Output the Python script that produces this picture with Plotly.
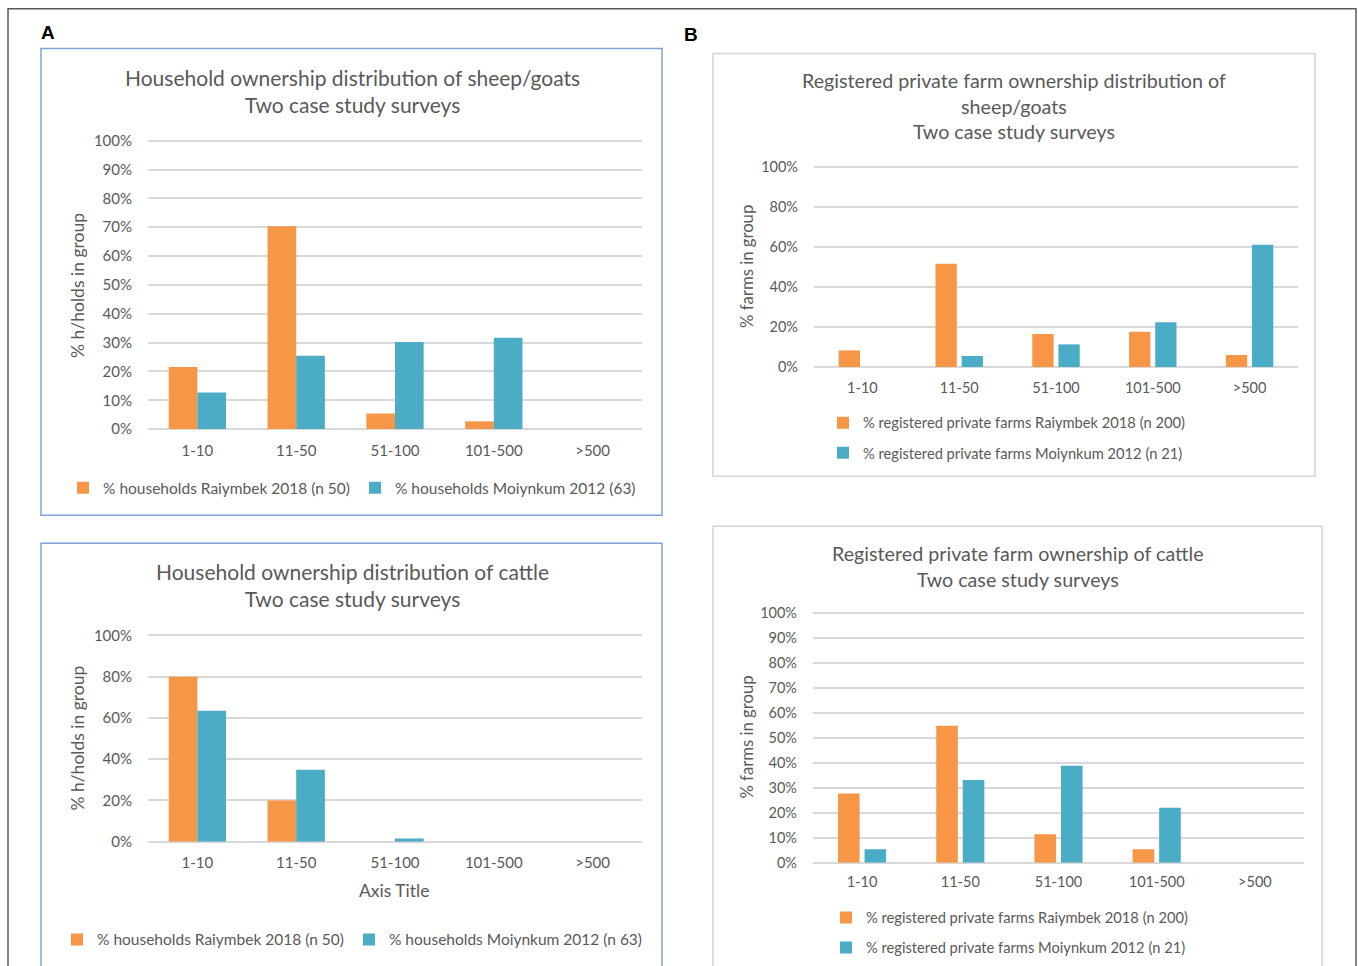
import plotly.graph_objects as go

W, H = 1358, 966

# Herd-size classes shared by all four panels
categories = ["1-10", "11-50", "51-100", "101-500", ">500"]

# A (top): households owning sheep/goats, % in each size class
sheep_hh_raiymbek = [21.5, 70.3, 5.4, 2.7, 0]
sheep_hh_moiynkum = [12.7, 25.4, 30.2, 31.7, 0]

# A (bottom): households owning cattle
cattle_hh_raiymbek = [80.0, 20.0, 0, 0, 0]
cattle_hh_moiynkum = [63.5, 34.9, 1.6, 0, 0]

# B (top): registered private farms, sheep/goats
sheep_farm_raiymbek = [8.3, 51.5, 16.5, 17.6, 6.0]
sheep_farm_moiynkum = [0, 5.5, 11.3, 22.3, 61.0]

# B (bottom): registered private farms, cattle
cattle_farm_raiymbek = [27.8, 54.9, 11.4, 5.4, 0]
cattle_farm_moiynkum = [5.4, 33.2, 38.9, 22.1, 0]

ORANGE = "#F79646"
TEAL = "#4BACC6"
GRID = "#D9D9D9"
TEXT = "#595959"
FONT = "Lato, 'Open Sans', sans-serif"

# page placement of the figure: it sits slightly below the top of the page
TOP_OFFSET, V_SCALE = 8.5, 0.982
Y_TOP = 100.8  # a little headroom so the 100% gridline is not clipped


def px_x(x):
    return x / W


def px_y(y):
    return 1 - ((y - TOP_OFFSET) / V_SCALE) / H


fig = go.Figure()

panels = [
    # axis suffix, orange series, teal series, orange name, teal name, legend id
    ("", sheep_hh_raiymbek, sheep_hh_moiynkum,
     "% households Raiymbek 2018 (n 50)", "% households Moiynkum 2012 (63)", "legend"),
    ("2", cattle_hh_raiymbek, cattle_hh_moiynkum,
     "% households Raiymbek 2018 (n 50)", "% households Moiynkum 2012 (n 63)", "legend2"),
    ("3", sheep_farm_raiymbek, sheep_farm_moiynkum,
     "% registered private farms Raiymbek 2018 (n 200)",
     "% registered private farms Moiynkum 2012 (n 21)", "legend3"),
    ("4", cattle_farm_raiymbek, cattle_farm_moiynkum,
     "% registered private farms Raiymbek 2018 (n 200)",
     "% registered private farms Moiynkum 2012 (n 21)", "legend4"),
]

for i, (ax, ora, tea, n1, n2, leg) in enumerate(panels):
    fig.add_trace(go.Bar(x=categories, y=ora, name=n1, marker_color=ORANGE,
                         marker_line_width=0, xaxis="x" + ax, yaxis="y" + ax,
                         legend=leg, legendgroup=f"{leg}a", offsetgroup="a",
                         hoverinfo="x+y+name"))
    fig.add_trace(go.Bar(x=categories, y=tea, name=n2, marker_color=TEAL,
                         marker_line_width=0, xaxis="x" + ax, yaxis="y" + ax,
                         legend=leg, legendgroup=f"{leg}b", offsetgroup="b",
                         hoverinfo="x+y+name"))

# plot-area pixel boxes: (left, right, y of 0%, y of 100%), y tick step,
# tick font size, x tick label standoff
boxes = {
    "": (148, 642, 429, 141, 10, 15, 11),
    "2": (148, 642, 841, 635, 20, 15, 10),
    "3": (814, 1298, 367, 167, 20, 14.5, 10),
    "4": (813, 1304, 862, 613, 10, 14.5, 9),
}

layout_axes = {}
for ax, (l, r, b, t, step, fs, xs) in boxes.items():
    xa = "xaxis" + ax
    ya = "yaxis" + ax
    top = b - (b - t) * Y_TOP / 100
    layout_axes[xa] = dict(
        domain=[px_x(l), px_x(r)], anchor="y" + ax, showgrid=False,
        showline=False, zeroline=False, ticks="",
        tickfont=dict(family=FONT, size=fs, color=TEXT),
        ticklabelstandoff=xs, fixedrange=True,
    )
    layout_axes[ya] = dict(
        domain=[px_y(b), px_y(top)], anchor="x" + ax, range=[0, Y_TOP],
        dtick=step, tick0=0, ticksuffix="%", showgrid=True, gridcolor=GRID,
        gridwidth=1.7, zeroline=True, zerolinecolor=GRID, zerolinewidth=1.7,
        showline=False, ticks="",
        tickfont=dict(family=FONT, size=fs, color=TEXT),
        ticklabelstandoff=15, fixedrange=True,
    )

fig.update_layout(
    width=W, height=H, margin=dict(l=0, r=0, t=0, b=0),
    paper_bgcolor="white", plot_bgcolor="white",
    barmode="group", bargap=0.42, bargroupgap=0.0,
    font=dict(family=FONT, color=TEXT),
    **layout_axes,
)

# B panels separate the paired bars slightly
for tr in fig.data:
    if tr.xaxis in ("x3", "x4"):
        tr.width = 0.22
        tr.offset = -0.245 if tr.offsetgroup == "a" else 0.025

leg_font_a = dict(family=FONT, size=15.5, color=TEXT)
leg_font_b = dict(family=FONT, size=14.7, color=TEXT)
fig.update_layout(
    legend=dict(orientation="h", x=px_x(352), y=px_y(488), xanchor="center",
                yanchor="middle", font=leg_font_a, bgcolor="rgba(0,0,0,0)",
                itemwidth=30, traceorder="normal"),
    legend2=dict(orientation="h", x=px_x(352), y=px_y(939), xanchor="center",
                 yanchor="middle", font=leg_font_a, bgcolor="rgba(0,0,0,0)",
                 itemwidth=30, traceorder="normal"),
    legend3=dict(orientation="v", x=px_x(823), y=px_y(438), xanchor="left",
                 yanchor="middle", font=leg_font_b, bgcolor="rgba(0,0,0,0)",
                 itemwidth=30, tracegroupgap=8, traceorder="grouped"),
    legend4=dict(orientation="v", x=px_x(826), y=px_y(932), xanchor="left",
                 yanchor="middle", font=leg_font_b, bgcolor="rgba(0,0,0,0)",
                 itemwidth=30, tracegroupgap=8, traceorder="grouped"),
)

title_a = dict(family=FONT, size=21, color=TEXT)
title_b = dict(family=FONT, size=19.7, color=TEXT)
annotations = [
    dict(text="Household ownership distribution of sheep/goats<br>Two case study surveys",
         x=px_x(352), y=px_y(91), font=title_a),
    dict(text="Household ownership distribution of cattle<br>Two case study surveys",
         x=px_x(352), y=px_y(585), font=title_a),
    dict(text="Registered private farm ownership distribution of<br>sheep/goats<br>Two case study surveys",
         x=px_x(1014), y=px_y(106), font=title_b),
    dict(text="Registered private farm ownership of cattle<br>Two case study surveys",
         x=px_x(1018), y=px_y(566), font=title_b),
]
for a in annotations:
    a.update(xref="paper", yref="paper", showarrow=False, xanchor="center",
             yanchor="middle", align="center")

axis_a = dict(family=FONT, size=17.5, color=TEXT)
axis_b = dict(family=FONT, size=16.7, color=TEXT)
annotations += [
    dict(text="% h/holds in group", x=px_x(78), y=px_y(286), textangle=-90, font=axis_a),
    dict(text="% h/holds in group", x=px_x(78), y=px_y(738), textangle=-90, font=axis_a),
    dict(text="% farms in group", x=px_x(747), y=px_y(267), textangle=-90, font=axis_b),
    dict(text="% farms in group", x=px_x(747), y=px_y(737), textangle=-90, font=axis_b),
    dict(text="Axis Title", x=px_x(394), y=px_y(890), font=axis_a),
]
for a in annotations[4:]:
    a.update(xref="paper", yref="paper", showarrow=False, xanchor="center",
             yanchor="middle")

label_font = dict(family="Liberation Sans, Arial, sans-serif", size=19,
                  color="black")
annotations += [
    dict(text="<b>A</b>", x=px_x(48), y=px_y(33), xref="paper", yref="paper",
         showarrow=False, xanchor="center", yanchor="middle", font=label_font),
    dict(text="<b>B</b>", x=px_x(691), y=px_y(35), xref="paper", yref="paper",
         showarrow=False, xanchor="center", yanchor="middle", font=label_font),
]
fig.update_layout(annotations=annotations)

# frames around the whole figure and around each chart
frames = [
    (8, 9.2, 1356, 1000, "#5A5A5A", 1.5),
    (41, 49, 662, 515, "#7FA3D6", 1.5),
    (41, 543, 662, 1000, "#7FA3D6", 1.5),
    (713, 54, 1315, 476, "#D4D4D4", 1.5),
    (713, 526, 1322, 1000, "#D4D4D4", 1.5),
]
shapes = []
for x0, y0, x1, y1, col, wid in frames:
    shapes.append(dict(type="rect", xref="paper", yref="paper",
                       x0=px_x(x0), x1=px_x(x1), y0=px_y(y1), y1=px_y(y0),
                       line=dict(color=col, width=wid), fillcolor="rgba(0,0,0,0)",
                       layer="below"))
fig.update_layout(shapes=shapes)

fig.write_html("out.html")
